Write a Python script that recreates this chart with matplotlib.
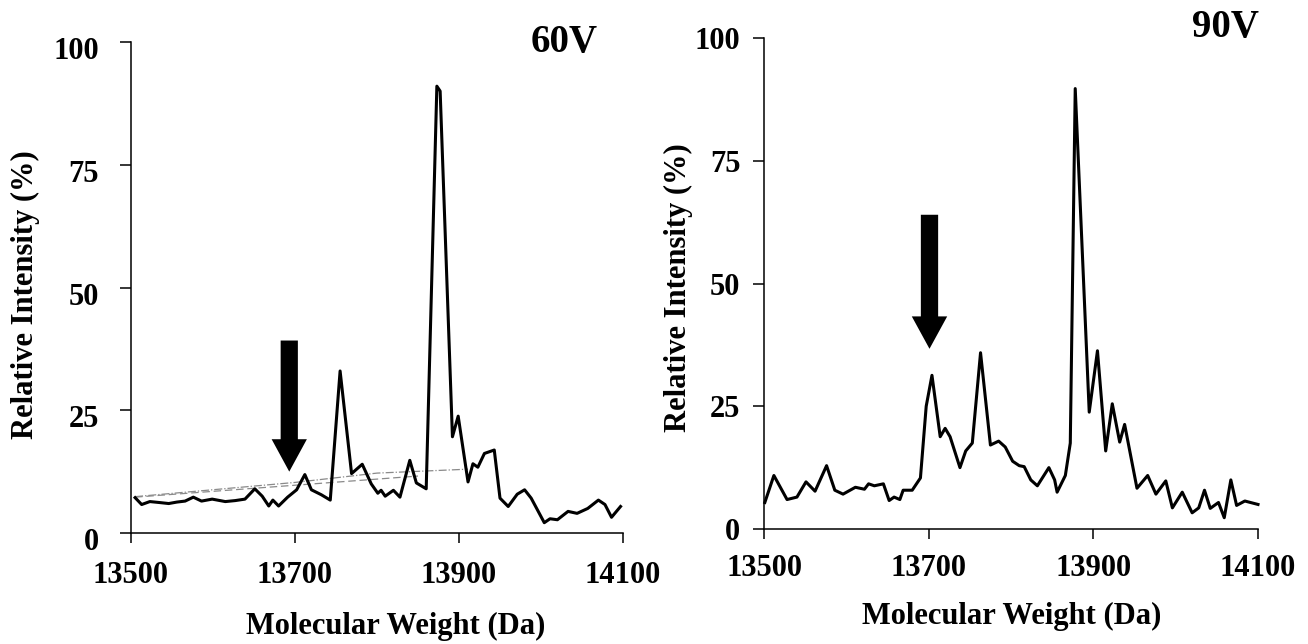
import matplotlib
matplotlib.use('Agg')
import matplotlib.pyplot as plt
from matplotlib.patches import FancyArrow
from matplotlib.transforms import ScaledTranslation

# 60V spectrum
mw60 = [13505, 13513, 13523, 13535, 13546, 13556, 13566, 13576, 13586, 13599,
        13615, 13627, 13639, 13651, 13660, 13668, 13673, 13680, 13691, 13702,
        13712, 13720, 13732, 13743, 13755, 13769, 13782, 13793, 13801, 13805,
        13810, 13820, 13828, 13840, 13848, 13860, 13873, 13877, 13892, 13899,
        13911, 13917, 13923, 13931, 13943, 13950, 13960, 13971, 13980, 13988,
        14004, 14011, 14020, 14033, 14044, 14057, 14070, 14078, 14086, 14097]
int60 = [7.2, 5.8, 6.4, 6.2, 6.0, 6.3, 6.5, 7.3, 6.5, 6.9,
         6.4, 6.6, 6.9, 9.0, 7.5, 5.5, 6.7, 5.5, 7.3, 8.8,
         11.9, 8.8, 7.8, 6.7, 33.0, 12.1, 14.0, 10.0, 8.1, 8.7,
         7.5, 8.7, 7.3, 14.8, 10.2, 9.0, 91.0, 90.0, 19.6, 23.8,
         10.4, 14.1, 13.4, 16.2, 16.9, 7.1, 5.4, 7.9, 8.8, 7.1,
         2.1, 2.9, 2.7, 4.4, 4.0, 5.0, 6.7, 5.8, 3.2, 5.4]

# faint baseline lines in the 60V panel
base_a_mw = [13505, 13700, 13800, 13911]
base_a_int = [7.4, 10.3, 12.2, 13.0]
base_b_mw = [13505, 13850]
base_b_int = [7.3, 11.6]

# 90V spectrum
mw90 = [13501, 13512, 13528, 13540, 13551, 13562, 13576, 13586, 13596, 13611,
        13622, 13627, 13634, 13645, 13652, 13658, 13665, 13669, 13680, 13690,
        13697, 13704, 13714, 13720, 13726, 13738, 13745, 13753, 13763, 13775,
        13785, 13793, 13802, 13810, 13816, 13824, 13832, 13846, 13853, 13856,
        13866, 13872, 13878, 13895, 13905, 13915, 13923, 13932, 13938, 13953,
        13966, 13976, 13988, 13996, 14008, 14020, 14028, 14035, 14042, 14052,
        14059, 14067, 14074, 14084, 14100]
int90 = [5.4, 10.9, 6.0, 6.5, 9.6, 7.7, 12.9, 7.9, 7.1, 8.5,
         8.1, 9.2, 8.8, 9.2, 5.8, 6.5, 6.0, 7.9, 7.9, 10.4,
         25.0, 31.3, 18.8, 20.5, 18.8, 12.5, 15.9, 17.5, 35.9, 17.1,
         17.9, 16.7, 13.8, 12.9, 12.7, 10.0, 8.8, 12.5, 10.0, 7.5,
         10.9, 17.5, 89.7, 23.8, 36.3, 15.9, 25.5, 17.7, 21.3, 8.3,
         10.9, 7.1, 9.8, 4.3, 7.5, 3.3, 4.3, 7.9, 4.2, 5.4,
         2.3, 10.0, 4.8, 5.7, 5.0]

xticks = [13500, 13700, 13900, 14100]
yticks = [0, 25, 50, 75, 100]

# arrows: (x centre, top, tip)
arrow60 = (13693, 39.2, 12.5)
arrow90 = (13701, 64.0, 36.7)

FONT = 'Liberation Serif'
plt.rcParams['font.family'] = FONT
plt.rcParams['font.weight'] = 'bold'

fig = plt.figure(figsize=(13.08, 6.44), dpi=100)
ax1 = fig.add_axes([0.10015, 0.17236, 0.37615, 0.76242])
ax2 = fig.add_axes([0.58410, 0.17857, 0.37768, 0.76242])


def setup(ax, ypad, xpad):
    ax.set_xlim(13500, 14100)
    ax.set_ylim(0, 100)
    for s in ['top', 'right']:
        ax.spines[s].set_visible(False)
    for s in ['left', 'bottom']:
        ax.spines[s].set_linewidth(1.1)
    ax.set_xticks(xticks)
    ax.set_yticks(yticks)
    ax.tick_params(axis='y', direction='out', length=8, width=1.1, pad=ypad, labelsize=22)
    ax.tick_params(axis='x', direction='out', length=7, width=1.1, pad=xpad, labelsize=22)
    for lab in ax.get_xticklabels() + ax.get_yticklabels():
        lab.set_fontweight('bold')


setup(ax1, 15, 13)
setup(ax2, 9, 11)
# left panel: value labels hang a little below their ticks
shift = ScaledTranslation(0, -6 / 100, fig.dpi_scale_trans)
for lab in ax1.get_yticklabels():
    lab.set_transform(lab.get_transform() + shift)

ax1.plot(base_a_mw, base_a_int, color='#8a8a8a', lw=0.9, ls='-.')
ax1.plot(base_b_mw, base_b_int, color='#8a8a8a', lw=0.9, ls=(0, (6, 3)))
ax1.plot(mw60, int60, color='black', lw=2.2)
ax2.plot(mw90, int90, color='black', lw=2.2, clip_on=False)

for ax, (xc, top, tip) in [(ax1, arrow60), (ax2, arrow90)]:
    ax.add_patch(FancyArrow(xc, top, 0, tip - top, width=21, head_width=43,
                            head_length=6.6, length_includes_head=True,
                            color='black', lw=0))

ax1.text(0.88, 0.998, '60V', transform=ax1.transAxes, ha='center', va='center',
         fontsize=28, fontweight='bold')
ax2.text(0.935, 1.022, '90V', transform=ax2.transAxes, ha='center', va='center',
         fontsize=28, fontweight='bold')

for ax, ly, lx, lxx, lxy in [(ax1, 0.485, -0.185, 0.537, -0.160),
                            (ax2, 0.492, -0.143, 0.502, -0.148)]:
    ax.set_ylabel('Relative Intensity (%)', fontsize=22, fontweight='bold')
    ax.yaxis.set_label_coords(lx, ly)
    ax.set_xlabel('Molecular Weight (Da)', fontsize=22, fontweight='bold')
    ax.xaxis.set_label_coords(lxx, lxy)

fig.savefig('out.png', dpi=100)
